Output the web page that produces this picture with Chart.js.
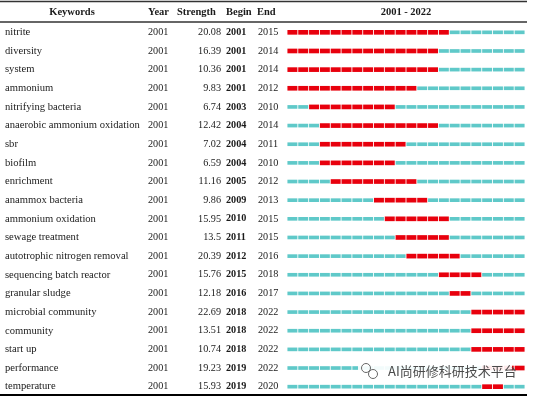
<!DOCTYPE html>
<html>
<head>
<meta charset="utf-8">
<script src="https://cdn.jsdelivr.net/npm/chart.js@4"></script>
<style>
  html, body { margin: 0; padding: 0; background: #fff; }
  #wrap { width: 534px; height: 396px; }
</style>
</head>
<body>
<div id="wrap"><canvas id="burstChart" width="534" height="396"></canvas></div>
<script>
var keywords = ["nitrite", "diversity", "system", "ammonium", "nitrifying bacteria",
  "anaerobic ammonium oxidation", "sbr", "biofilm", "enrichment", "anammox bacteria",
  "ammonium oxidation", "sewage treatment", "autotrophic nitrogen removal",
  "sequencing batch reactor", "granular sludge", "microbial community", "community",
  "start up", "performance", "temperature"];
var firstYear = [2001, 2001, 2001, 2001, 2001, 2001, 2001, 2001, 2001, 2001,
  2001, 2001, 2001, 2001, 2001, 2001, 2001, 2001, 2001, 2001];
var strength = ["20.08", "16.39", "10.36", "9.83", "6.74", "12.42", "7.02", "6.59", "11.16", "9.86",
  "15.95", "13.5", "20.39", "15.76", "12.18", "22.69", "13.51", "10.74", "19.23", "15.93"];
var begin = [2001, 2001, 2001, 2001, 2003, 2004, 2004, 2004, 2005, 2009,
  2010, 2011, 2012, 2015, 2016, 2018, 2018, 2018, 2019, 2019];
var end = [2015, 2014, 2014, 2012, 2010, 2014, 2011, 2010, 2012, 2013,
  2015, 2015, 2016, 2018, 2017, 2022, 2022, 2022, 2022, 2020];
var startYear = 2001, endYear = 2022;

var teal = "#5fc9c9", red = "#e8000d";
var datasets = [];
for (var yr = startYear; yr <= endYear; yr++) {
  (function (y) {
    datasets.push({
      data: keywords.map(function (k, i) {
        return (y < begin[i] || y > end[i]) ? [y + 0.07, y + 0.93] : null;
      }),
      backgroundColor: teal, barThickness: 3, grouped: false
    });
    datasets.push({
      data: keywords.map(function (k, i) {
        return (y >= begin[i] && y <= end[i]) ? [y + 0.07, y + 0.93] : null;
      }),
      backgroundColor: red, barThickness: 4, grouped: false
    });
  })(yr);
}

var tablePlugin = {
  id: "table",
  afterDraw: function (chart) {
    var ctx = chart.ctx, ys = chart.scales.y;
    ctx.save();
    ctx.fillStyle = "#1a1a1a";
    ctx.textBaseline = "middle";
    // header
    ctx.font = "bold 10.5px 'Liberation Serif'";
    ctx.textAlign = "center";
    ctx.fillText("Keywords", 72, 12);
    ctx.fillText("2001 - 2022", 406, 12);
    ctx.textAlign = "left";
    ctx.fillText("Year", 148, 12);
    ctx.fillText("Strength", 177, 12);
    ctx.fillText("Begin", 226, 12);
    ctx.fillText("End", 257, 12);
    // rows
    keywords.forEach(function (k, i) {
      var y = ys.getPixelForValue(i);
      ctx.font = "10.6px 'Liberation Serif'";
      ctx.textAlign = "left";
      ctx.fillText(k, 5, y);
      ctx.font = "10.2px 'Liberation Serif'";
      ctx.fillText(String(firstYear[i]), 148, y);
      ctx.fillText(String(end[i]), 258, y);
      ctx.textAlign = "right";
      ctx.fillText(strength[i], 221, y);
      ctx.font = "bold 10.2px 'Liberation Serif'";
      ctx.textAlign = "left";
      ctx.fillText(String(begin[i]), 226, y);
    });
    // rules
    ctx.strokeStyle = "#333";
    ctx.lineWidth = 1.5;
    ctx.beginPath(); ctx.moveTo(0, 1.5); ctx.lineTo(527, 1.5); ctx.stroke();
    ctx.beginPath(); ctx.moveTo(0, 22); ctx.lineTo(527, 22); ctx.stroke();
    ctx.strokeStyle = "#000";
    ctx.lineWidth = 2;
    ctx.beginPath(); ctx.moveTo(0, 395); ctx.lineTo(527, 395); ctx.stroke();
    // watermark
    ctx.fillStyle = "rgba(255,255,255,0.92)";
    ctx.fillRect(358, 362, 154, 17);
    ctx.strokeStyle = "#666";
    ctx.lineWidth = 1;
    ctx.beginPath(); ctx.arc(366, 368, 4.5, 0, Math.PI * 2); ctx.stroke();
    ctx.beginPath(); ctx.arc(373, 374, 4.5, 0, Math.PI * 2); ctx.stroke();
    ctx.fillStyle = "#4a4a4a";
    ctx.font = "13px 'Noto Sans CJK SC'";
    ctx.textAlign = "left";
    ctx.fillText("AI尚研修科研技术平台", 388, 371);
    ctx.restore();
  }
};

new Chart("burstChart", {
  type: "bar",
  data: { labels: keywords, datasets: datasets },
  options: {
    indexAxis: "y",
    responsive: false,
    animation: false,
    layout: { padding: { left: 287, right: 9, top: 23, bottom: 0 } },
    plugins: { legend: { display: false }, tooltip: { enabled: false } },
    scales: {
      x: { type: "linear", min: startYear, max: endYear + 1, display: false },
      y: { type: "category", display: false }
    }
  },
  plugins: [tablePlugin]
});
</script>
</body>
</html>
